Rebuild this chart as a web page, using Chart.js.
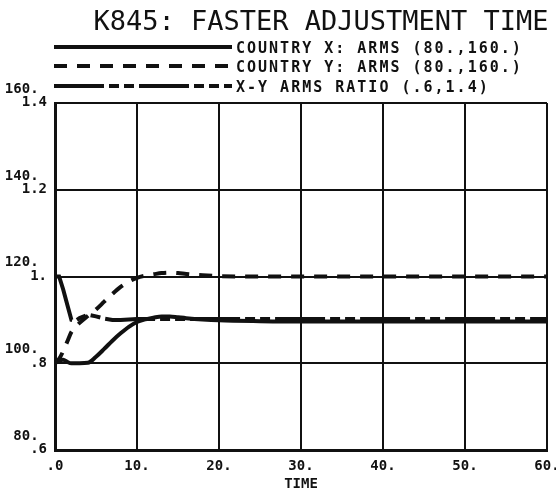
<!DOCTYPE html>
<html>
<head>
<meta charset="utf-8">
<script src="https://cdn.jsdelivr.net/npm/chart.js@4/dist/chart.umd.min.js"></script>
<style>
  html, body { margin: 0; padding: 0; background: #fff; }
  #wrap { width: 556px; height: 497px; }
</style>
</head>
<body>
<div id="wrap"><canvas id="chartContainer" width="556" height="497"></canvas></div>
<script>
// Time points
const times = [0, 0.5, 1, 1.5, 2, 2.5, 3, 4, 5, 6, 7, 8, 9, 10, 11, 12, 13, 14, 15, 16, 18, 20, 25, 30, 35, 40, 45, 50, 55, 60];

// Country X arms (left scale 80-160)
const countryX = [100, 100.6, 100.8, 100.3, 100, 100, 100, 100.1, 101.5, 103.3, 105.2, 106.9, 108.4, 109.5, 110.1, 110.5, 110.8, 110.8, 110.6, 110.4, 110.1, 109.9, 109.7, 109.6, 109.6, 109.6, 109.6, 109.6, 109.6, 109.6];

// Country Y arms (left scale 80-160)
const countryY = [100, 101, 102.8, 105, 107.2, 108.3, 109.3, 110.9, 112.4, 114.2, 116, 117.6, 118.8, 119.7, 120.2, 120.5, 120.8, 120.9, 120.8, 120.6, 120.3, 120.1, 120, 120, 120, 120, 120, 120, 120, 120];

// X-Y arms ratio (scale .6-1.4)
const armsRatio = [1.0, 1.0, 0.97, 0.935, 0.9, 0.898, 0.904, 0.912, 0.908, 0.903, 0.9, 0.9, 0.901, 0.902, 0.902, 0.902, 0.902, 0.902, 0.902, 0.902, 0.902, 0.902, 0.902, 0.902, 0.902, 0.902, 0.902, 0.902, 0.902, 0.902];

// Tick labels (each left tick carries the arms value and the ratio value)
const timeTicks = { 0: '.0', 10: '10.', 20: '20.', 30: '30.', 40: '40.', 50: '50.', 60: '60.' };
const armsTicks = { 80: '80.', 100: '100.', 120: '120.', 140: '140.', 160: '160.' };
const ratioTicks = { 80: '.6', 100: '.8', 120: '1.', 140: '1.2', 160: '1.4' };

const titleText = 'K845: FASTER ADJUSTMENT TIME';
const legendLabels = ['COUNTRY X: ARMS (80.,160.)', 'COUNTRY Y: ARMS (80.,160.)', 'X-Y ARMS RATIO (.6,1.4)'];

const ink = '#111';
const dashY = [13, 10];
const dashRatio = [50, 5, 10, 5, 10, 5];
const tickFont = { family: 'DejaVu Sans Mono', size: 14, weight: 'bold' };

function points(values) {
    return times.map((t, i) => ({ x: t, y: values[i] }));
}

// Drop the automatic label overflow padding so the plot box lands where the reference has it
function noMargins(s) {
    s.paddingLeft = 0;
    s.paddingRight = 0;
    s.paddingTop = 0;
    s.paddingBottom = 0;
}

// Draws the title and the legend block above the plot
const headerPlugin = {
    id: 'header',
    afterDraw(chart) {
        const ctx = chart.ctx;
        ctx.save();
        ctx.fillStyle = ink;
        ctx.textBaseline = 'alphabetic';
        ctx.font = '27px "DejaVu Sans Mono"';
        ctx.textAlign = 'center';
        ctx.fillText(titleText, 321, 30);

        const rows = [
            { y: 47, dash: [] },
            { y: 66, dash: dashY },
            { y: 86, dash: dashRatio }
        ];
        ctx.lineWidth = 4;
        ctx.strokeStyle = ink;
        rows.forEach((row, i) => {
            ctx.setLineDash(row.dash);
            ctx.beginPath();
            ctx.moveTo(54, row.y);
            ctx.lineTo(232, row.y);
            ctx.stroke();
            ctx.setLineDash([]);
            ctx.font = 'bold 15px "DejaVu Sans Mono"';
            ctx.textAlign = 'left';
            ctx.letterSpacing = '2px';
            ctx.fillText(legendLabels[i], 236, row.y + 6);
            ctx.letterSpacing = '0px';
        });
        ctx.restore();
    }
};

const ctx = document.getElementById('chartContainer').getContext('2d');
new Chart(ctx, {
    type: 'line',
    data: {
        datasets: [{
            label: legendLabels[0],
            data: points(countryX),
            yAxisID: 'arms',
            borderColor: ink,
            borderWidth: 4,
            pointRadius: 0,
            cubicInterpolationMode: 'monotone'
        }, {
            label: legendLabels[1],
            data: points(countryY),
            yAxisID: 'arms',
            borderColor: ink,
            borderWidth: 4,
            borderDash: dashY,
            pointRadius: 0,
            cubicInterpolationMode: 'monotone'
        }, {
            label: legendLabels[2],
            data: points(armsRatio),
            yAxisID: 'ratio',
            borderColor: ink,
            borderWidth: 4,
            borderDash: dashRatio,
            pointRadius: 0,
            tension: 0
        }]
    },
    options: {
        responsive: false,
        animation: false,
        devicePixelRatio: 1,
        layout: { padding: { top: 103, right: 9, left: 0, bottom: 4 } },
        plugins: {
            legend: { display: false },
            title: { display: false },
            tooltip: { enabled: false }
        },
        scales: {
            x: {
                type: 'linear',
                min: 0,
                max: 60,
                ticks: {
                    stepSize: 10,
                    color: ink,
                    font: tickFont,
                    padding: 8,
                    callback: v => timeTicks[v] ?? ''
                },
                grid: { color: ink, lineWidth: 2, drawTicks: false },
                border: { color: ink, width: 3 },
                title: {
                    display: true,
                    text: 'TIME',
                    color: ink,
                    font: tickFont,
                    padding: { top: 0, bottom: 0 }
                },
                afterFit: s => { noMargins(s); s.height = 43; }
            },
            ratio: {
                type: 'linear',
                position: 'left',
                min: 0.6,
                max: 1.4,
                display: false
            },
            arms: {
                type: 'linear',
                position: 'left',
                min: 80,
                max: 160,
                ticks: {
                    stepSize: 20,
                    color: ink,
                    font: { ...tickFont, lineHeight: 0.95 },
                    padding: 8,
                    labelOffset: -7,
                    callback: v => armsTicks[v] ? [armsTicks[v] + ' ', ratioTicks[v]] : ''
                },
                grid: { color: ink, lineWidth: 2, drawTicks: false },
                border: { color: ink, width: 3 },
                afterFit: s => { noMargins(s); s.width = 55; }
            }
        }
    },
    plugins: [headerPlugin]
});
</script>
</body>
</html>
